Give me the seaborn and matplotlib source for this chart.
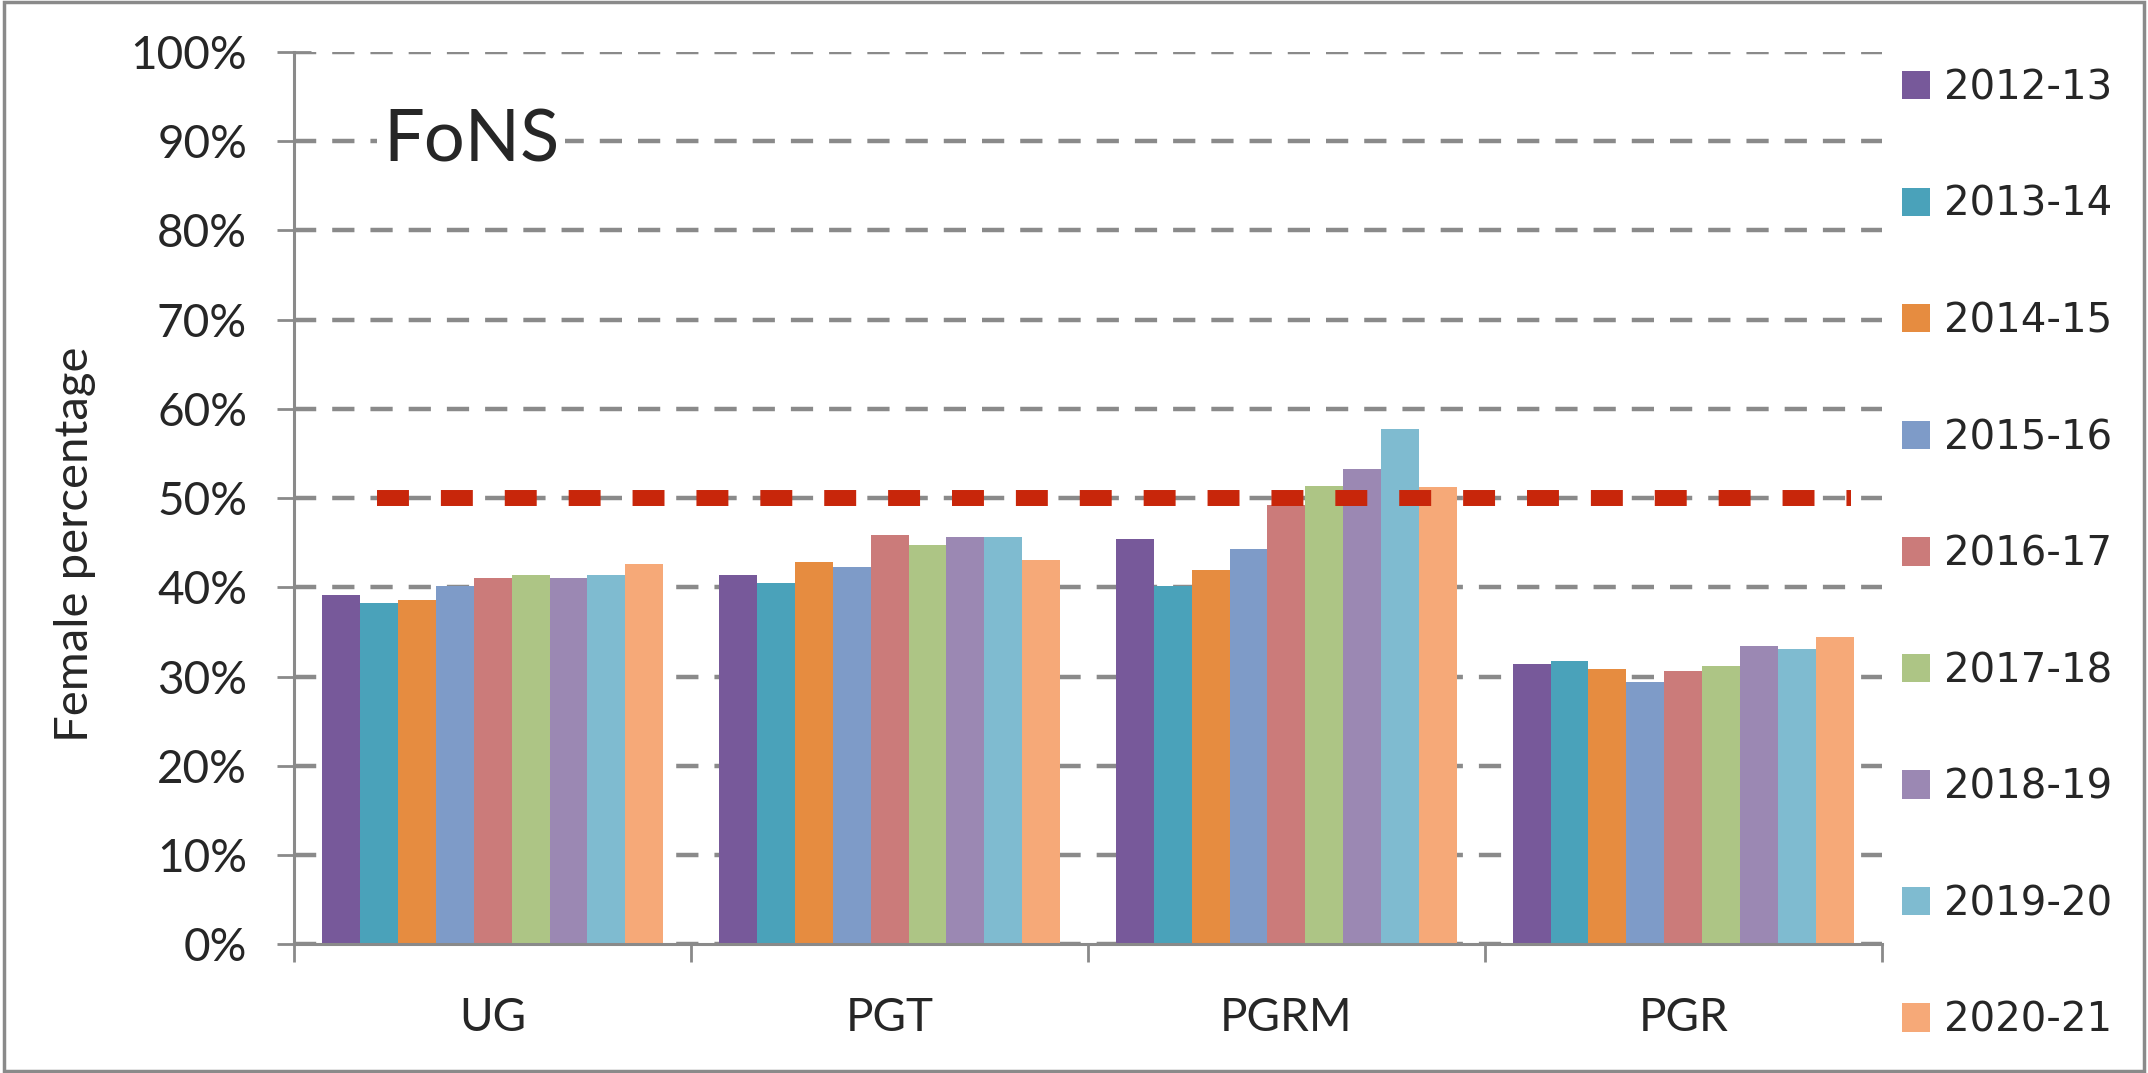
import matplotlib
matplotlib.use("Agg")
import matplotlib.pyplot as plt
import matplotlib.patches as mpatches
from matplotlib.font_manager import FontProperties
from matplotlib.ticker import PercentFormatter, FixedLocator
import pandas as pd
import seaborn as sns

levels = ["UG", "PGT", "PGRM", "PGR"]
years = ["2012-13", "2013-14", "2014-15", "2015-16", "2016-17",
         "2017-18", "2018-19", "2019-20", "2020-21"]

# female percentage per year, one list per level
ug = [39.1, 38.2, 38.6, 40.2, 41.1, 41.4, 41.1, 41.4, 42.6]
pgt = [41.4, 40.5, 42.8, 42.3, 45.9, 44.8, 45.6, 45.6, 43.1]
pgrm = [45.4, 40.2, 42.0, 44.3, 49.2, 51.4, 53.3, 57.7, 51.2]
pgr = [31.4, 31.7, 30.9, 29.4, 30.6, 31.2, 33.4, 33.1, 34.4]

colors = ["#77599A", "#4AA2BA", "#E68C40", "#7E9BC8", "#CB7B7A",
          "#ADC585", "#9B88B3", "#7FBBD0", "#F6A978"]

rows = []
for lvl, vals in zip(levels, [ug, pgt, pgrm, pgr]):
    for yr, v in zip(years, vals):
        rows.append({"level": lvl, "year": yr, "pct": v / 100})
df = pd.DataFrame(rows)

sns.set_style("white")
plt.rcParams["font.family"] = ["Lato", "DejaVu Sans"]

grey = "#8a8a8a"
fig = plt.figure(figsize=(21.48, 10.73), dpi=100)
ax = fig.add_axes([0.137, 0.120, 0.739, 0.8315])

sns.barplot(data=df, x="level", y="pct", hue="year", order=levels,
            hue_order=years, palette=colors, width=0.86, gap=0,
            saturation=1, linewidth=0, ax=ax)

ax.set_xlim(-0.5, 3.5)
ax.set_ylim(0, 1)
ax.set_yticks([i / 10 for i in range(11)])
ax.yaxis.set_major_formatter(PercentFormatter(1.0, decimals=0))
ax.grid(axis="y", color=grey, linewidth=3.2, linestyle=(0, (5, 3.6)))
ax.set_axisbelow(True)

ax.axhline(0.5, xmin=0.052, xmax=0.981, color="#C8260A", linewidth=11.5,
           linestyle=(0, (2, 2)), dash_capstyle="butt", zorder=5)

for s in ["top", "right"]:
    ax.spines[s].set_visible(False)
for s in ["left", "bottom"]:
    ax.spines[s].set_color(grey)
    ax.spines[s].set_linewidth(2.2)

ax.tick_params(axis="y", direction="inout", length=24, width=2, color=grey,
               labelsize=33, pad=22, left=True)
ax.tick_params(axis="x", which="major", length=0, labelsize=33, pad=38)
ax.xaxis.set_minor_locator(FixedLocator([-0.5, 0.5, 1.5, 2.5, 3.5]))
ax.tick_params(axis="x", which="minor", direction="out", length=13,
               width=2, color=grey, bottom=True)

ax.set_xlabel("")
ax.set_ylabel("Female percentage", fontsize=34)
ax.yaxis.set_label_coords(-0.125, 0.448)

ax.text(0.056, 0.90, "FoNS", transform=ax.transAxes, fontsize=52,
        va="center", ha="left", zorder=6,
        bbox=dict(facecolor="white", edgecolor="none", pad=4))

handles, labels = ax.get_legend_handles_labels()
ax.legend(handles, labels, loc="upper left", bbox_to_anchor=(0.876, 0.955),
          bbox_transform=fig.transFigure, frameon=False, borderpad=0,
          prop=FontProperties(family="DejaVu Sans", size=29),
          handlelength=0.7, handleheight=0.7, handletextpad=0.35,
          labelspacing=1.9)

fig.patches.append(mpatches.Rectangle((0.002, 0.002), 0.996, 0.996,
                                      transform=fig.transFigure, fill=False,
                                      edgecolor=grey, linewidth=2.5))

fig.savefig("out.png", dpi=100)
